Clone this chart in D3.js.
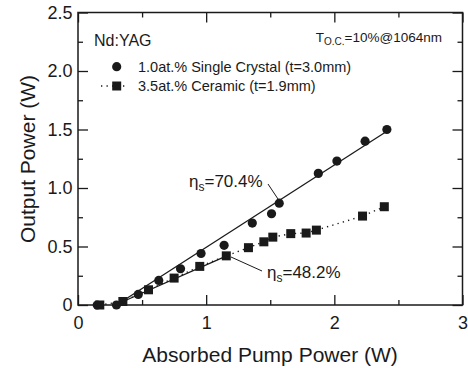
<!DOCTYPE html>
<html>
<head>
<meta charset="utf-8">
<script src="https://cdn.jsdelivr.net/npm/d3@7"></script>
<style>
  body { margin: 0; background: #fff; }
  text { font-family: "Liberation Sans", Arial, sans-serif; fill: #1a1a1a; }
</style>
</head>
<body>
<svg width="468" height="368"></svg>
<script>
// single crystal (circles)
crystalX = [0.15, 0.30, 0.47, 0.63, 0.80, 0.96, 1.14, 1.36, 1.51, 1.57, 1.875, 2.02, 2.24, 2.41];
crystalY = [0.00, 0.00, 0.09, 0.21, 0.31, 0.44, 0.51, 0.70, 0.78, 0.87, 1.125, 1.23, 1.40, 1.50];
// ceramic (squares)
ceramicX = [0.17, 0.35, 0.55, 0.75, 0.95, 1.157, 1.33, 1.45, 1.52, 1.66, 1.78, 1.86, 2.22, 2.39];
ceramicY = [0.00, 0.03, 0.13, 0.23, 0.33, 0.42, 0.49, 0.54, 0.58, 0.61, 0.615, 0.64, 0.76, 0.84];
// linear fits: [x start, x end], slope
crystalFit = {x: [0.30, 2.41], slope: 0.704};
ceramicFit = {x: [0.29, 1.16], slope: 0.482};

xTicks = [0, 1, 2, 3];
xMinor = [0.5, 1.5, 2.5];
yTicks = [0, 0.5, 1.0, 1.5, 2.0, 2.5];
yMinor = [0.25, 0.75, 1.25, 1.75, 2.25];

legendLabels = ["1.0at.% Single Crystal (t=3.0mm)", "3.5at.% Ceramic (t=1.9mm)"];

const ink = "#1a1a1a";
const svg = d3.select("svg");

const x = d3.scaleLinear().domain([0, 3]).range([78, 462.5]);
const y = d3.scaleLinear().domain([0, 2.5]).range([305, 12.5]);

function axis(fn, vals, size, fmt, pad) {
  return fn.tickValues(vals).tickSizeInner(-size).tickSizeOuter(0)
    .tickPadding(pad).tickFormat(fmt);
}
const yfmt = d => d === 0 ? "0" : d3.format(".1f")(d);

const axes = [
  ["translate(0,305)", axis(d3.axisBottom(x), xTicks, 10, d3.format("d"), 11)],
  ["translate(0,305)", axis(d3.axisBottom(x), xMinor, 5, "", 0)],
  ["translate(0,12.5)", axis(d3.axisTop(x), xTicks, 10, "", 0)],
  ["translate(0,12.5)", axis(d3.axisTop(x), xMinor, 5, "", 0)],
  ["translate(78,0)", axis(d3.axisLeft(y), yTicks, 10, yfmt, 5.5)],
  ["translate(78,0)", axis(d3.axisLeft(y), yMinor, 5, "", 0)],
  ["translate(462.5,0)", axis(d3.axisRight(y), yTicks, 10, "", 0)],
  ["translate(462.5,0)", axis(d3.axisRight(y), yMinor, 5, "", 0)]
];
axes.forEach(([t, a]) => {
  const g = svg.append("g").attr("transform", t).call(a);
  g.select(".domain").remove();
  g.selectAll("line").attr("stroke", ink).attr("stroke-width", 1.3);
  g.selectAll("text").style("font-size", "18px").attr("fill", ink);
});

// frame
svg.append("rect")
    .attr("x", x(0)).attr("y", y(2.5))
    .attr("width", x(3) - x(0)).attr("height", y(0) - y(2.5))
    .attr("fill", "none").attr("stroke", ink).attr("stroke-width", 1.5);

// fit lines
[crystalFit, ceramicFit].forEach(f => {
  svg.append("line")
      .attr("x1", x(f.x[0])).attr("y1", y(0))
      .attr("x2", x(f.x[1])).attr("y2", y(f.slope * (f.x[1] - f.x[0])))
      .attr("stroke", ink).attr("stroke-width", 1.3);
});

// dotted line through ceramic points
const ceramic = ceramicX.map((d, i) => [d, ceramicY[i]]);
const crystal = crystalX.map((d, i) => [d, crystalY[i]]);
svg.append("path")
    .attr("d", d3.line().x(d => x(d[0])).y(d => y(d[1]))(ceramic))
    .attr("fill", "none").attr("stroke", ink).attr("stroke-width", 1.4)
    .attr("stroke-dasharray", "1.3,4.2");

svg.append("g").selectAll("circle").data(crystal).join("circle")
    .attr("cx", d => x(d[0])).attr("cy", d => y(d[1])).attr("r", 4.6)
    .attr("fill", ink);
svg.append("g").selectAll("rect").data(ceramic).join("rect")
    .attr("x", d => x(d[0]) - 4.5).attr("y", d => y(d[1]) - 4.5)
    .attr("width", 9).attr("height", 9).attr("fill", ink);

// axis titles
svg.append("text").attr("x", 270).attr("y", 362)
    .attr("text-anchor", "middle").style("font-size", "21px")
    .text("Absorbed Pump Power (W)");
svg.append("text").attr("transform", "translate(35,159) rotate(-90)")
    .attr("text-anchor", "middle").style("font-size", "21px")
    .text("Output Power (W)");

// labels inside
svg.append("text").attr("x", 94).attr("y", 45.5).style("font-size", "16px").text("Nd:YAG");
const toc = svg.append("text").attr("x", 442).attr("y", 41.5)
    .attr("text-anchor", "end").style("font-size", "13.5px");
toc.append("tspan").text("T");
toc.append("tspan").attr("dy", 3).style("font-size", "10px").text("O.C.");
toc.append("tspan").attr("dy", -3).text("=10%@1064nm");

// legend
svg.append("line").attr("x1", 101).attr("x2", 127).attr("y1", 86).attr("y2", 86)
    .attr("stroke", ink).attr("stroke-width", 1.4).attr("stroke-dasharray", "1.3,4.2");
svg.append("circle").attr("cx", 116.7).attr("cy", 66.7).attr("r", 4.6).attr("fill", ink);
svg.append("rect").attr("x", 112.2).attr("y", 81.5).attr("width", 9).attr("height", 9).attr("fill", ink);
legendLabels.forEach((l, i) => {
  svg.append("text").attr("x", 138).attr("y", 71.7 + i * 19.5)
      .style("font-size", "14.5px").text(l);
});

// slope annotations
function eta(px, py, val) {
  const t = svg.append("text").attr("x", px).attr("y", py).style("font-size", "17px");
  t.append("tspan").text("η");
  t.append("tspan").attr("dy", 4).style("font-size", "12px").text("s");
  t.append("tspan").attr("dy", -4).text("=" + val);
}
eta(189, 187, "70.4%");
eta(267, 278, "48.2%");
svg.append("line").attr("x1", 268).attr("y1", 184).attr("x2", 278).attr("y2", 199)
    .attr("stroke", ink).attr("stroke-width", 1);
svg.append("line").attr("x1", 231).attr("y1", 257).attr("x2", 262).attr("y2", 271)
    .attr("stroke", ink).attr("stroke-width", 1);
</script>
</body>
</html>
